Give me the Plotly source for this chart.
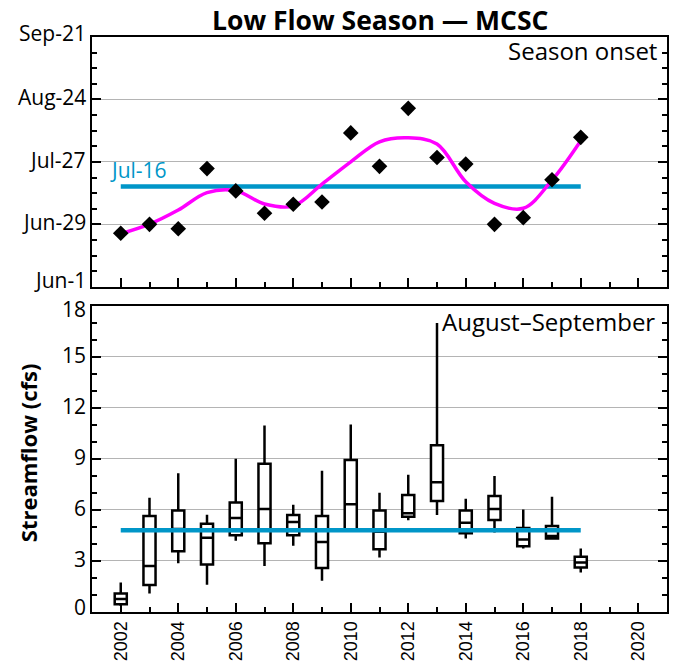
import plotly.graph_objects as go

# ---------------- data ----------------
years = [2002, 2003, 2004, 2005, 2006, 2007, 2008, 2009, 2010,
         2011, 2012, 2013, 2014, 2015, 2016, 2017, 2018]

# low-flow season onset, day of year
onset_day = [176, 180, 178, 205, 195, 185, 189, 190, 221,
             206, 232, 210, 207, 180, 183, 200, 219]
# smoothed onset trend, day of year
onset_trend = [175.8, 180.1, 186.4, 194.2, 195.1, 189.1, 188.2, 198.0, 208.0,
               217.0, 218.8, 216.0, 199.1, 189.4, 187.2, 199.8, 217.5]
onset_mean = 197          # Jul-16
onset_mean_label = "Jul-16"

onset_tick_days = [152, 180, 208, 236, 264]
onset_tick_labels = ["Jun-1", "Jun-29", "Jul-27", "Aug-24", "Sep-21"]
onset_minor_days = [159, 166, 173, 187, 194, 201, 215, 222, 229, 243, 250, 257]

# August-September streamflow (cfs) box statistics
flow_lower = [0.35, 1.09, 2.87, 1.60, 4.18, 2.71, 3.89, 1.83, 4.73,
              3.20, 5.39, 5.70, 4.32, 4.67, 3.73, 4.28, 2.32]
flow_q1 = [0.46, 1.58, 3.57, 2.79, 4.51, 4.04, 4.51, 2.59, 4.86,
           3.69, 5.60, 6.52, 4.63, 5.41, 3.86, 4.32, 2.61]
flow_median = [0.76, 2.71, 4.88, 4.37, 5.53, 6.06, 5.29, 4.12, 6.33,
               4.71, 5.80, 7.63, 5.25, 6.06, 4.26, 4.47, 2.91]
flow_q3 = [1.09, 5.64, 5.96, 5.18, 6.43, 8.71, 5.70, 5.64, 8.93,
           5.96, 6.88, 9.80, 5.96, 6.81, 4.94, 5.06, 3.24]
flow_upper = [1.73, 6.72, 8.15, 5.72, 9.01, 10.96, 6.31, 8.30, 11.02,
              7.01, 8.07, 16.98, 6.66, 7.99, 6.02, 6.78, 3.73]
flow_mean = 4.8
flow_tick_values = [0, 3, 6, 9, 12, 15, 18]

# ---------------- styles ----------------
BLUE = "#0096c8"
MAGENTA = "#ff00ff"
GRID = "#b4b4b4"
FONT = "Open Sans"
TICK_FONT = dict(family=FONT, size=21, color="black")
# vertical nudges (px) for y tick labels, top and bottom panel
onset_label_shift = [7, 2, 2, 2, 4]
flow_label_shift = [5, 2, 2, 2, 2, 2, -3]

fig = go.Figure()

# top panel
fig.add_trace(go.Scatter(
    x=[years[0], years[-1]], y=[onset_mean, onset_mean], mode="lines",
    line=dict(color=BLUE, width=4.5), xaxis="x", yaxis="y", showlegend=False))
fig.add_trace(go.Scatter(
    x=years, y=onset_trend, mode="lines",
    line=dict(color=MAGENTA, width=3.5, shape="spline", smoothing=1.0),
    xaxis="x", yaxis="y", showlegend=False))
fig.add_trace(go.Scatter(
    x=years, y=onset_day, mode="markers",
    marker=dict(symbol="diamond", size=12, color="black"),
    xaxis="x", yaxis="y", showlegend=False))

# bottom panel
fig.add_trace(go.Scatter(
    x=[years[0], years[-1]], y=[flow_mean, flow_mean], mode="lines",
    line=dict(color=BLUE, width=4.5), xaxis="x2", yaxis="y2", showlegend=False))
fig.add_trace(go.Box(
    x=years, q1=flow_q1, median=flow_median, q3=flow_q3,
    lowerfence=flow_lower, upperfence=flow_upper,
    width=0.42, whiskerwidth=0, fillcolor="white",
    line=dict(color="black", width=2.5), boxpoints=False,
    xaxis="x2", yaxis="y2", showlegend=False))

xcommon = dict(
    range=[2001, 2021], tickmode="linear", tick0=2002, dtick=2,
    ticks="inside", ticklen=9, tickwidth=2, tickcolor="black",
    minor=dict(tickmode="linear", tick0=2002, dtick=1, ticks="inside",
               ticklen=5, tickwidth=2, tickcolor="black"),
    showline=True, linewidth=2, linecolor="black", mirror=True,
    showgrid=False, zeroline=False,
)

annotations = [
    dict(text="<b>Low Flow Season — MCSC</b>", xref="paper", yref="paper",
         x=0.5, y=1.0296, xanchor="center", yanchor="middle",
         showarrow=False, font=dict(family=FONT, size=26.5, color="black")),
    dict(text="Season onset", xref="paper", yref="paper",
         x=0.986, y=0.977, xanchor="right", yanchor="middle",
         showarrow=False, font=dict(family=FONT, size=24, color="black")),
    dict(text="August–September", xref="paper", yref="paper",
         x=0.983, y=0.506, xanchor="right", yanchor="middle",
         showarrow=False, font=dict(family=FONT, size=24, color="black")),
    dict(text="<b>Streamflow (cfs)</b>", xref="paper", yref="paper",
         x=-0.111, y=0.2765, xanchor="center", yanchor="middle",
         textangle=-90, showarrow=False,
         font=dict(family=FONT, size=22, color="black")),
    dict(text=onset_mean_label, xref="x", yref="y",
         x=2001.55, y=204.3, xanchor="left", yanchor="middle",
         showarrow=False, font=dict(family=FONT, size=21, color=BLUE)),
]
for v, lab, s in zip(onset_tick_days, onset_tick_labels, onset_label_shift):
    annotations.append(dict(text=lab, xref="paper", yref="y", x=0, y=v,
                            xanchor="right", yanchor="middle", xshift=-4,
                            yshift=s, showarrow=False, font=TICK_FONT))
for v, s in zip(flow_tick_values, flow_label_shift):
    annotations.append(dict(text=str(v), xref="paper", yref="y2", x=0, y=v,
                            xanchor="right", yanchor="middle", xshift=-4,
                            yshift=s, showarrow=False, font=TICK_FONT))

fig.update_layout(
    width=673, height=671,
    margin=dict(l=92, r=4, t=37, b=59),
    plot_bgcolor="white", paper_bgcolor="white",
    font=dict(family=FONT, color="black"),
    xaxis=dict(**xcommon, anchor="y", domain=[0, 1], showticklabels=False),
    xaxis2=dict(**xcommon, anchor="y2", domain=[0, 1], showticklabels=True,
                tickangle=-90,
                tickfont=dict(family="Liberation Sans", size=18, color="black")),
    yaxis=dict(
        domain=[0.5656, 1], range=[152, 264], anchor="x",
        tickmode="array", tickvals=onset_tick_days, showticklabels=False,
        ticks="inside", ticklen=9, tickwidth=2, tickcolor="black",
        minor=dict(tickmode="array", tickvals=onset_minor_days, ticks="inside",
                   ticklen=5, tickwidth=2, tickcolor="black"),
        showline=True, linewidth=2, linecolor="black", mirror="ticks",
        showgrid=True, gridcolor=GRID, gridwidth=1, zeroline=False,
    ),
    yaxis2=dict(
        domain=[0, 0.5327], range=[0, 18], anchor="x2",
        tickmode="array", tickvals=flow_tick_values, showticklabels=False,
        ticks="inside", ticklen=9, tickwidth=2, tickcolor="black",
        minor=dict(tickmode="linear", tick0=0, dtick=1, ticks="inside",
                   ticklen=5, tickwidth=2, tickcolor="black"),
        showline=True, linewidth=2, linecolor="black", mirror="ticks",
        showgrid=True, gridcolor=GRID, gridwidth=1, zeroline=False,
    ),
    annotations=annotations,
)

# remove the browser's default page margin so the figure sits at (0, 0)
fig.write_html("out.html",
               config={"displayModeBar": False},
               post_script="document.body.style.margin='0';")
